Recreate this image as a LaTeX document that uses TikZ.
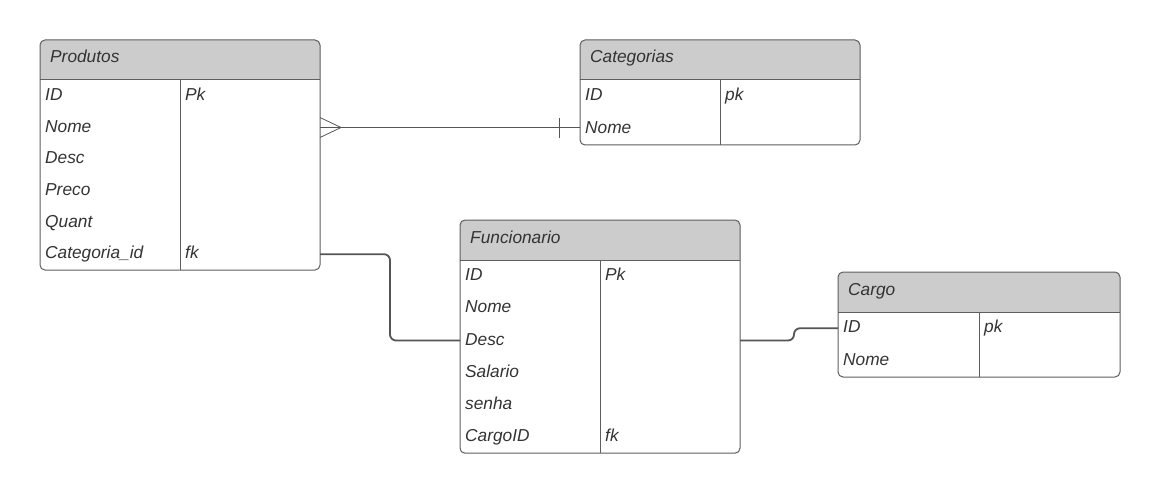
\documentclass[tikz,border=0pt]{standalone}
\usepackage{fontspec}
\setmainfont{Liberation Sans}
\usepackage{tikz}
\usetikzlibrary{calc}
\usetikzlibrary{positioning}
\definecolor{headgray}{HTML}{CCCCCC}
\definecolor{linegray}{HTML}{5E5E5E}
\definecolor{textgray}{HTML}{333333}
\definecolor{relgray}{HTML}{555555}
\tikzset{
  tabbox/.style={draw=linegray, line width=1pt, rounded corners=5pt, inner sep=0pt, outer sep=0pt},
  tabtitle/.style={font=\fontsize{17.3}{20}\selectfont\itshape, text=textgray, inner sep=0pt},
  field/.style={font=\fontsize{17.3}{20}\selectfont\itshape, text=textgray, inner sep=0pt, anchor=west, text height=12.5pt, text depth=3.5pt},
  rel/.style={draw=relgray, line width=0.8pt},
  link/.style={draw=relgray, line width=1.8pt, rounded corners=6pt},
}
% #1 name, #2 x, #3 y, #4 width, #5 row pitch, #6 rows, #7 title, #8 fields
\newcommand{\createtable}[8]{%
  \begin{scope}
    \clip (#2,#3) rectangle ++(#4,40);
    \fill[headgray, rounded corners=5pt] (#2,#3) rectangle ++(#4,50);
  \end{scope}
  \node[tabbox, minimum width=#4, minimum height={40+#5*#6}, anchor=north west] (#1) at (#2,#3) {};
  \draw[linegray, line width=1pt] (#2,{#3+40}) -- ++(#4,0);
  \draw[linegray, line width=1pt] ({#2+#4/2},{#3+40}) -- ({#2+#4/2},{#3+40+#5*#6});
  \node[tabtitle, anchor=base west] (#1-t) at ({#2+10},{#3+23}) {#7};
  \foreach \f/\k [count=\i] in {#8} {
    \node[field] (#1-\i) at ({#2+5},{#3+40+#5*(\i-0.5)}) {\f};
    \node[field] (#1-k\i) at ({#2+#4/2+5},{#3+40+#5*(\i-0.5)}) {\k};
  }%
}

\begin{document}
\begin{tikzpicture}[x=1pt,y=-1pt]
  \useasboundingbox (0,0) rectangle (1160,492);
  %tables
  \createtable{prod}{40}{40}{280}{31.67}{6}{Produtos}{ID/Pk, Nome/, Desc/, Preco/, Quant/, Categoria\_id/fk}
  \createtable{cat}{580}{40}{280}{32.5}{2}{Categorias}{ID/pk, Nome/}
  \createtable{fun}{460}{220}{280}{32.2}{6}{Funcionario}{ID/Pk, Nome/, Desc/, Salario/, senha/, CargoID/fk}
  \createtable{car}{838}{272}{282}{32.5}{2}{Cargo}{ID/pk, Nome/}
  %relations
  \coordinate (pa) at (prod-2 -| prod.east);
  \coordinate (cb) at (prod-2 -| cat.west);
  \draw[rel] (pa) -- (cb);
  \draw[rel] ($(cb)+(-76,0)$) -- (cb);
  \draw[rel] ($(pa)+(0,10)$) -- ($(pa)+(21,0)$) -- ($(pa)+(0,-10)$);
  \draw[rel] ($(cb)+(-21,10)$) -- ($(cb)+(-21,-10)$);
  \draw[link] (prod-6 -| prod.east) -- ++(70,0) |- (fun-3 -| fun.west);
  \draw[link] (fun-3 -| fun.east) -- ++(54,0) |- (car-1 -| car.west);
\end{tikzpicture}
\end{document}
